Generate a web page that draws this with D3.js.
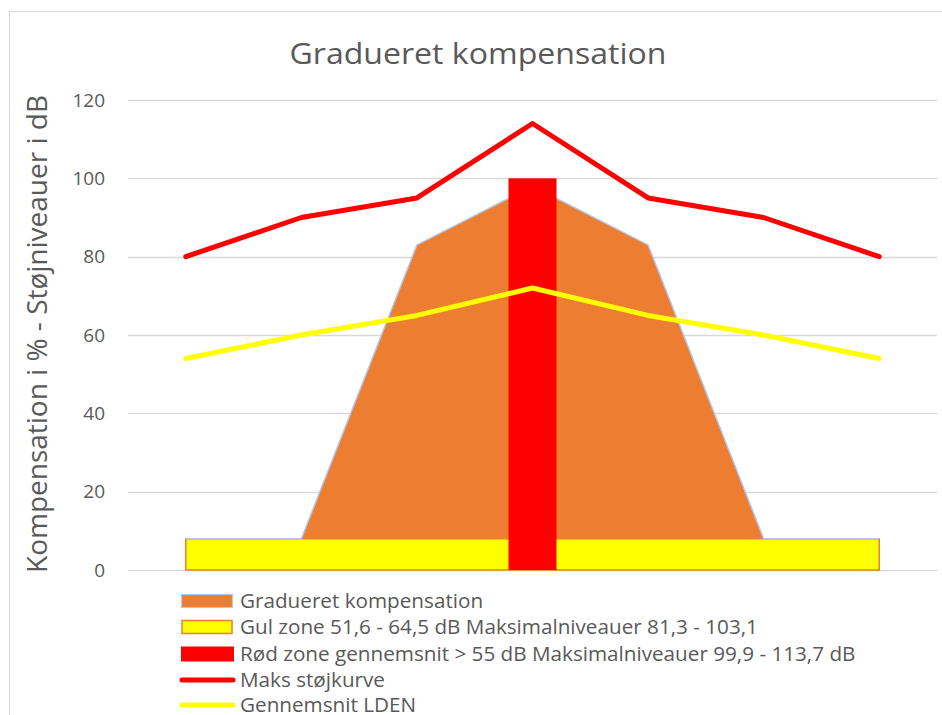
<!DOCTYPE html>
<html>
<head>
<meta charset="utf-8">
<script src="https://cdn.jsdelivr.net/npm/d3@7"></script>
<style>
  body { margin: 0; background: #fff; }
  text { font-family: "Open Sans", sans-serif; fill: #595959; }
</style>
</head>
<body>
<div id="chart"></div>
<script>
(function() {
    var width = 942,
        height = 715;

    // chart values
    var categories = ["1", "2", "3", "4", "5", "6", "7"];
    var gradueret = [8, 8, 83, 98, 83, 8, 8];
    var gulZone = [8, 8, 8, 8, 8, 8, 8];
    var roedZone = [0, 0, 0, 100, 0, 0, 0];
    var maksStoej = [80, 90, 95, 114, 95, 90, 80];
    var gennemsnit = [54, 60, 65, 72, 65, 60, 54];
    var yTicks = [0, 20, 40, 60, 80, 100, 120];

    var legendNames = [
        "Gradueret kompensation",
        "Gul zone 51,6 - 64,5 dB Maksimalniveauer 81,3 - 103,1",
        "Rød zone gennemsnit > 55 dB Maksimalniveauer 99,9 - 113,7 dB",
        "Maks støjkurve",
        "Gennemsnit LDEN"
    ];

    var svg = d3.select("#chart")
        .append("svg")
        .attr("width", width)
        .attr("height", height);

    // chart border
    svg.append("rect")
        .attr("x", 9.5)
        .attr("y", 11.5)
        .attr("width", width + 20)
        .attr("height", height + 20)
        .attr("fill", "none")
        .attr("stroke", "#d9d9d9");

    var x = d3.scaleBand().domain(categories).range([128, 937]);
    var y = d3.scaleLinear().domain([0, 120]).range([570, 100]);

    function cx(i) {
        return x(categories[i]) + x.bandwidth() / 2;
    }

    // gridlines
    svg.append("g")
        .selectAll("line")
        .data(yTicks)
        .enter().append("line")
        .attr("x1", 128)
        .attr("x2", 937)
        .attr("y1", function(d) { return Math.round(y(d)) + 0.5 })
        .attr("y2", function(d) { return Math.round(y(d)) + 0.5 })
        .attr("stroke", "#d9d9d9")
        .attr("stroke-width", 1.3);

    // y axis labels
    var yAxis = d3.axisLeft(y).tickValues(yTicks).tickSize(0).tickPadding(0);
    var ga = svg.append("g")
        .attr("transform", "translate(105,0)")
        .call(yAxis);
    ga.select(".domain").remove();
    ga.selectAll("text")
        .attr("font-family", "Open Sans")
        .attr("font-size", 19)
        .attr("fill", "#595959");

    // graduated area
    var area = d3.area()
        .x(function(d, i) { return cx(i) })
        .y0(y(0))
        .y1(function(d) { return y(d) });

    var areaLine = d3.line()
        .x(function(d, i) { return cx(i) })
        .y(function(d) { return y(d) });

    svg.append("path")
        .datum(gradueret)
        .attr("d", area)
        .attr("fill", "#ed7d31");

    // yellow zone
    svg.append("path")
        .datum(gulZone)
        .attr("d", area)
        .attr("fill", "#ffff00")
        .attr("stroke", "#ed7d31")
        .attr("stroke-width", 1.5);

    svg.append("path")
        .datum(gradueret)
        .attr("d", areaLine)
        .attr("fill", "none")
        .attr("stroke", "#b4c7e7")
        .attr("stroke-width", 1.5);

    // red zone column
    var barW = 48;
    svg.append("g")
        .selectAll("rect")
        .data(roedZone)
        .enter().append("rect")
        .filter(function(d) { return d > 0 })
        .attr("x", function(d) { return cx(roedZone.indexOf(d)) - barW / 2 })
        .attr("y", function(d) { return y(d) })
        .attr("width", barW)
        .attr("height", function(d) { return y(0) - y(d) })
        .attr("fill", "#ff0000");

    var line = d3.line()
        .x(function(d, i) { return cx(i) })
        .y(function(d) { return y(d) });

    svg.append("path")
        .datum(maksStoej)
        .attr("d", line)
        .attr("fill", "none")
        .attr("stroke", "#ff0000")
        .attr("stroke-width", 5)
        .attr("stroke-linecap", "round")
        .attr("stroke-linejoin", "round");

    svg.append("path")
        .datum(gennemsnit)
        .attr("d", line)
        .attr("fill", "none")
        .attr("stroke", "#ffff00")
        .attr("stroke-width", 5)
        .attr("stroke-linecap", "round")
        .attr("stroke-linejoin", "round");

    // title
    svg.append("text")
        .attr("x", 478)
        .attr("y", 64)
        .attr("text-anchor", "middle")
        .attr("font-size", 30)
        .attr("textLength", 377)
        .attr("lengthAdjust", "spacingAndGlyphs")
        .text("Gradueret kompensation");

    // y axis title
    svg.append("text")
        .attr("transform", "translate(47,334) rotate(-90)")
        .attr("text-anchor", "middle")
        .attr("font-size", 27)
        .attr("textLength", 478)
        .attr("lengthAdjust", "spacingAndGlyphs")
        .text("Kompensation i %  - Støjniveauer i dB");

    // legend
    var legendY = [601, 627, 654, 680, 705];
    var lg = svg.append("g");

    lg.append("rect")
        .attr("x", 181.5).attr("y", legendY[0] - 6.5)
        .attr("width", 51).attr("height", 13)
        .attr("fill", "#ed7d31").attr("stroke", "#b4c7e7").attr("stroke-width", 1.2);
    lg.append("rect")
        .attr("x", 182).attr("y", legendY[1] - 6.5)
        .attr("width", 50).attr("height", 13)
        .attr("fill", "#ffff00").attr("stroke", "#ed7d31").attr("stroke-width", 1.5);
    lg.append("rect")
        .attr("x", 181).attr("y", legendY[2] - 7.5)
        .attr("width", 53).attr("height", 15)
        .attr("fill", "#ff0000");
    lg.append("line")
        .attr("x1", 182).attr("x2", 233)
        .attr("y1", legendY[3]).attr("y2", legendY[3])
        .attr("stroke", "#ff0000").attr("stroke-width", 5).attr("stroke-linecap", "round");
    lg.append("line")
        .attr("x1", 182).attr("x2", 233)
        .attr("y1", legendY[4]).attr("y2", legendY[4])
        .attr("stroke", "#ffff00").attr("stroke-width", 5).attr("stroke-linecap", "round");

    lg.selectAll(".legtext")
        .data(legendNames)
        .enter().append("text")
        .attr("class", "legtext")
        .attr("x", 240)
        .attr("y", function(d, i) { return legendY[i] + 7 })
        .attr("font-size", 19.5)
        .text(function(d) { return d })
        .each(function() {
            var w = this.getComputedTextLength();
            d3.select(this)
                .attr("textLength", w * 1.06)
                .attr("lengthAdjust", "spacingAndGlyphs");
        });
})();
</script>
</body>
</html>
